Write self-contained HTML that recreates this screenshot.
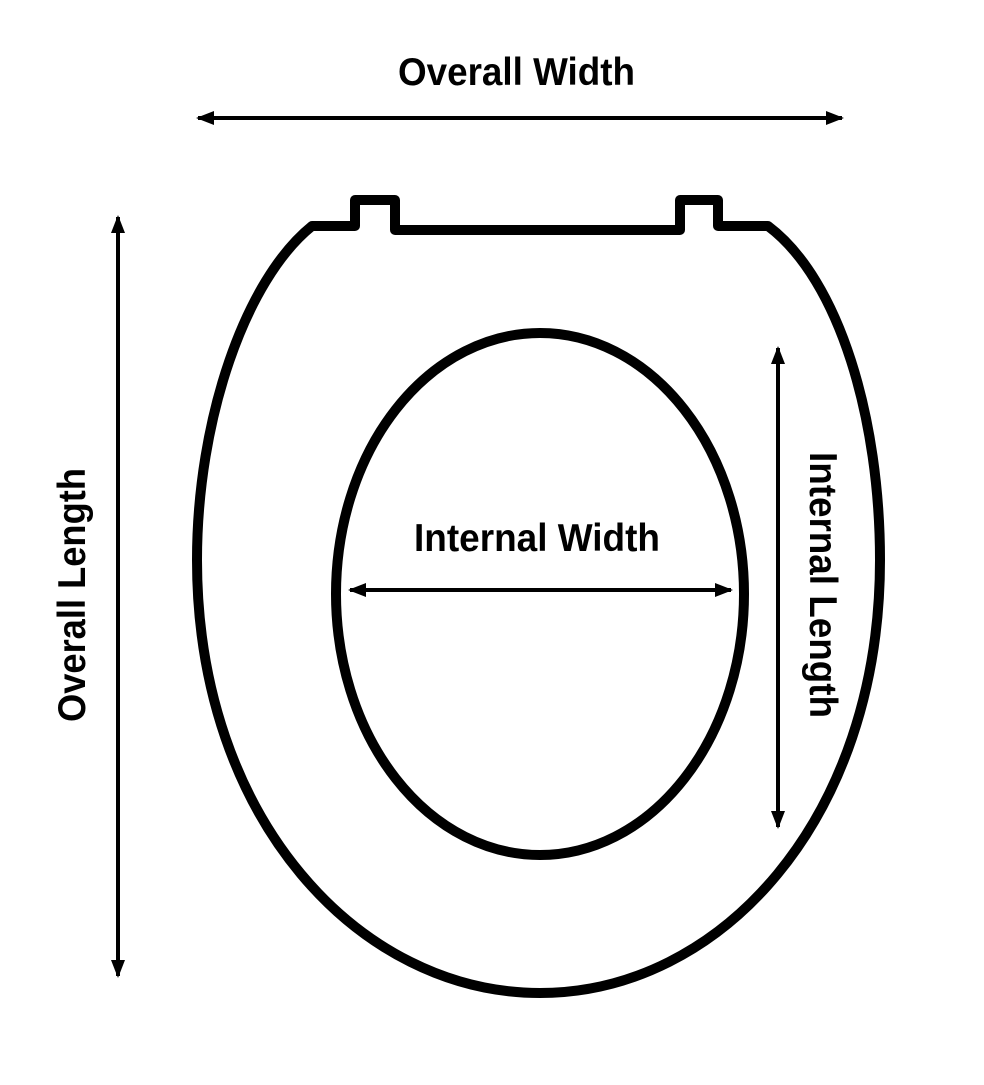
<!DOCTYPE html>
<html><head><meta charset="utf-8"><style>html,body{margin:0;padding:0;background:#fff}</style></head>
<body>
<svg width="984" height="1080" viewBox="0 0 984 1080" xmlns="http://www.w3.org/2000/svg">
<defs>
<marker id="a" markerWidth="18" markerHeight="14" refX="16" refY="7" orient="auto-start-reverse" markerUnits="userSpaceOnUse" viewBox="0 0 18 14">
<path d="M0,0 L18,7 L0,14 Z" fill="#000"/>
</marker>
</defs>
<g fill="none" stroke="#000" stroke-width="10" stroke-linejoin="round">
<path d="M312,226 C245,280 197,420 197,560 C197,820 360,993 540,993 C720,993 880,820 880,560 C880,420 840,280 768,226 L718,226 L718,200 L680,200 L680,230 L395,230 L395,200 L355,200 L355,226 Z"/>
<ellipse cx="540" cy="594" rx="204" ry="261"/>
</g>
<g stroke="#000" stroke-width="4" fill="none">
<line x1="198" y1="118" x2="842" y2="118" marker-start="url(#a)" marker-end="url(#a)"/>
<line x1="118" y1="217" x2="118" y2="976" marker-start="url(#a)" marker-end="url(#a)"/>
<line x1="778" y1="348" x2="778" y2="827" marker-start="url(#a)" marker-end="url(#a)"/>
<line x1="350" y1="590" x2="731" y2="590" marker-start="url(#a)" marker-end="url(#a)"/>
</g>
<g font-family="'Liberation Sans', Arial, sans-serif" font-weight="bold" font-size="39" fill="#000">
<text x="398" y="85" textLength="237" lengthAdjust="spacingAndGlyphs">Overall Width</text>
<text x="414" y="551" textLength="246" lengthAdjust="spacingAndGlyphs">Internal Width</text>
<text transform="translate(85,722) rotate(-90)" textLength="254" lengthAdjust="spacingAndGlyphs">Overall Length</text>
<text transform="translate(810,452) rotate(90)" textLength="266" lengthAdjust="spacingAndGlyphs">Internal Length</text>
</g>
</svg>
</body></html>
